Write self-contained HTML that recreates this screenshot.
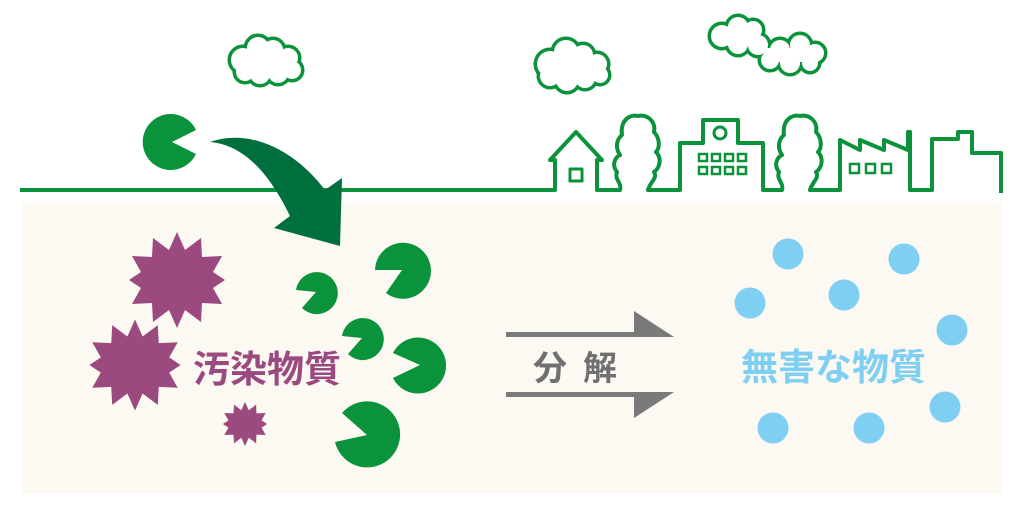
<!DOCTYPE html>
<html><head><meta charset="utf-8"><style>
html,body{margin:0;padding:0;background:#fff;}
svg{display:block}
text{font-family:"Liberation Sans","Noto Sans CJK JP",sans-serif;font-weight:bold}
</style></head><body>
<svg width="1024" height="512" viewBox="0 0 1024 512" xmlns="http://www.w3.org/2000/svg">
<rect x="22" y="203" width="980" height="291" fill="#fcf8f2"/>
<!-- clouds -->
<g stroke="#0a933a" stroke-width="7" fill="#0a933a">
 <circle cx="243" cy="60" r="12"/><circle cx="258" cy="48" r="11"/><circle cx="273" cy="50" r="10"/><circle cx="288" cy="58" r="10"/><circle cx="292" cy="70" r="9"/><circle cx="278" cy="73" r="10"/><circle cx="260" cy="74" r="10"/><circle cx="245" cy="72" r="9"/>
 <circle cx="550" cy="64" r="13"/><circle cx="566" cy="52" r="12"/><circle cx="583" cy="55" r="10"/><circle cx="597" cy="64" r="10"/><circle cx="600" cy="75" r="8"/><circle cx="585" cy="78" r="10"/><circle cx="567" cy="80" r="11"/><circle cx="550" cy="76" r="10"/>
 <circle cx="722" cy="36" r="11"/><circle cx="738" cy="27" r="10"/><circle cx="753" cy="30" r="9"/><circle cx="738" cy="44" r="10"/><circle cx="758" cy="45" r="10"/><circle cx="780" cy="50" r="10"/><circle cx="800" cy="45" r="10"/><circle cx="815" cy="53" r="9"/><circle cx="810" cy="63" r="8"/><circle cx="790" cy="63" r="10"/><circle cx="770" cy="60" r="9"/>
</g>
<g fill="#fff">
 <circle cx="243" cy="60" r="12"/><circle cx="258" cy="48" r="11"/><circle cx="273" cy="50" r="10"/><circle cx="288" cy="58" r="10"/><circle cx="292" cy="70" r="9"/><circle cx="278" cy="73" r="10"/><circle cx="260" cy="74" r="10"/><circle cx="245" cy="72" r="9"/><rect x="245" y="52" width="42" height="20"/>
 <circle cx="550" cy="64" r="13"/><circle cx="566" cy="52" r="12"/><circle cx="583" cy="55" r="10"/><circle cx="597" cy="64" r="10"/><circle cx="600" cy="75" r="8"/><circle cx="585" cy="78" r="10"/><circle cx="567" cy="80" r="11"/><circle cx="550" cy="76" r="10"/><rect x="552" y="58" width="44" height="20"/>
 <circle cx="722" cy="36" r="11"/><circle cx="738" cy="27" r="10"/><circle cx="753" cy="30" r="9"/><circle cx="738" cy="44" r="10"/><circle cx="758" cy="45" r="10"/><circle cx="780" cy="50" r="10"/><circle cx="800" cy="45" r="10"/><circle cx="815" cy="53" r="9"/><circle cx="810" cy="63" r="8"/><circle cx="790" cy="63" r="10"/><circle cx="770" cy="60" r="9"/><rect x="728" y="32" width="30" height="14"/><rect x="765" y="48" width="45" height="14"/>
</g>
<!-- ground & town -->
<g fill="none" stroke="#0a933a" stroke-width="4" stroke-linejoin="round">
 <path d="M20 190 H555 V160 H550 L576 132 L602 160 H597 V190 H620 C622 182 614 180 617 172 C612 166 614 158 620 155 C614 146 618 138 622 135 C620 120 630 114 638 116 C648 114 656 122 654 132 C660 138 660 148 656 152 C662 158 660 168 654 172 C658 178 650 182 648 190 H680 V143 H703 V120 H738 V143 H763 V190 H782 C784 182 776 180 779 172 C774 166 776 158 782 155 C776 146 780 138 784 135 C782 120 792 114 800 116 C810 114 818 122 816 132 C822 138 822 148 818 152 C824 158 822 168 816 172 C820 178 812 182 810 190 H840 V140 L860 150 V140 L884 150 V140 L908 150 V132 H910 V190 H932 V139 H958 V132 H972 V153 H1001 V193"/>
 <rect x="570" y="169" width="12" height="12" stroke-width="3"/>
 <circle cx="720" cy="133" r="6" stroke-width="3"/>
</g>
<g fill="none" stroke="#0a933a" stroke-width="2.5">
 <rect x="699" y="154" width="8" height="7"/><rect x="712" y="154" width="8" height="7"/><rect x="725" y="154" width="8" height="7"/><rect x="738" y="154" width="8" height="7"/>
 <rect x="699" y="167" width="8" height="7"/><rect x="712" y="167" width="8" height="7"/><rect x="725" y="167" width="8" height="7"/><rect x="738" y="167" width="8" height="7"/>
 <rect x="850" y="164" width="9" height="9"/><rect x="866" y="164" width="9" height="9"/><rect x="882" y="164" width="9" height="9"/>
</g>
<!-- top pacman -->
<path d="M172 142 L196 130 A28 28 0 1 0 196 154 Z" fill="#0a933a"/>
<!-- curved arrow -->
<path d="M210 142 C250 128 295 150 325 190 L342 178 L340 246 L274 228 L290 216 C270 175 245 145 210 142 Z" fill="#006f3e"/>
<!-- pacmans -->
<g fill="#0a933a">
 <path d="M316 292 L296 290 A21 21 0 1 1 302 308 Z"/>
 <path d="M402 270 L375 270 A28 28 0 1 1 386 293 Z"/>
 <path d="M362 338 L342 336 A21 21 0 1 1 348 354 Z"/>
 <path d="M420 365 L393 353 A28 28 0 1 1 393 378 Z"/>
 <path d="M367 435 L342 413 A33 33 0 1 1 335 442 Z"/>
</g>
<!-- stars -->
<g fill="#9b4a80">
 <polygon points="0,-48 8,-30 24,-42 25,-23 45,-24 36,-8 48,0 36,8 45,24 25,23 24,42 8,30 0,48 -8,30 -24,42 -25,23 -45,24 -36,8 -48,0 -36,-8 -45,-24 -25,-23 -24,-42 -8,-30" transform="translate(177,280)"/>
 <polygon points="0,-48 8,-30 24,-42 25,-23 45,-24 36,-8 48,0 36,8 45,24 25,23 24,42 8,30 0,48 -8,30 -24,42 -25,23 -45,24 -36,8 -48,0 -36,-8 -45,-24 -25,-23 -24,-42 -8,-30" transform="translate(135,365) scale(0.95)"/>
 <polygon points="0,-48 8,-30 24,-42 25,-23 45,-24 36,-8 48,0 36,8 45,24 25,23 24,42 8,30 0,48 -8,30 -24,42 -25,23 -45,24 -36,8 -48,0 -36,-8 -45,-24 -25,-23 -24,-42 -8,-30" transform="translate(245,424) scale(0.46)"/>
</g>
<text x="193" y="382" font-size="37" fill="#9b4a80">汚染物質</text>
<!-- gray arrows -->
<g fill="#7a7a7a">
 <path d="M506 332 H634 V311 L674 337 H506 Z"/>
 <path d="M506 392 H674 L634 418 V397 H506 Z"/>
</g>
<text x="533" y="380" font-size="34" fill="#707070" letter-spacing="16">分解</text>
<!-- blue dots -->
<g fill="#7fcff3">
 <circle cx="788" cy="254" r="15.5"/><circle cx="904" cy="259" r="15.5"/><circle cx="750" cy="303" r="15.5"/><circle cx="844" cy="295" r="15.5"/><circle cx="952" cy="330" r="15.5"/><circle cx="945" cy="407" r="15.5"/><circle cx="773" cy="428" r="15.5"/><circle cx="869" cy="428" r="15.5"/>
</g>
<text x="741" y="380" font-size="37" fill="#7fcff3">無害な物質</text>
</svg>
</body></html>
